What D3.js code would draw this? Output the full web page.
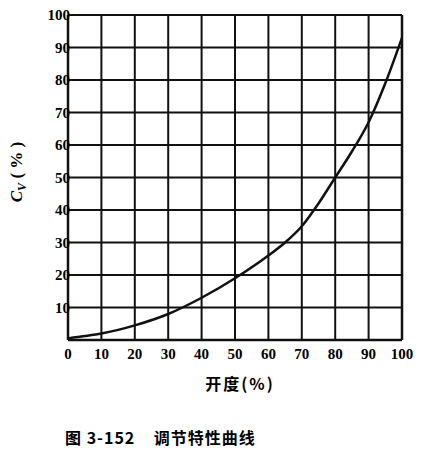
<!DOCTYPE html>
<html><head><meta charset="utf-8">
<script src="https://cdn.jsdelivr.net/npm/d3@7"></script>
<style>body{margin:0;background:#fff}</style>
</head><body><svg id="c" width="434" height="471"></svg>
<script>
const xTicks = [0,10,20,30,40,50,60,70,80,90,100];
const yTicks = [10,20,30,40,50,60,70,80,90,100];
const opening = [0,5,10,20,30,40,50,60,65,70,75,80,85,90,95,100];
const cv = [0.5,1.2,2,4.5,8,13,19,26,30,35,42,50,58,67,79,93];
const SERIF = '"Liberation Serif", "DejaVu Serif", serif';
const CJK = '"Noto Sans CJK SC", sans-serif';

const svg = d3.select('#c');
const x = d3.scaleLinear().domain([0,100]).range([68,402]);
const y = d3.scaleLinear().domain([0,100]).range([340,15]);
const g = svg.append('g');

// grid
g.selectAll('.vx').data(xTicks).join('line')
  .attr('x1', d => x(d)).attr('x2', d => x(d)).attr('y1', y(0)).attr('y2', y(100))
  .attr('stroke', '#111').attr('stroke-width', d => d === 0 || d === 100 ? 2.5 : 2);
g.selectAll('.hy').data([0].concat(yTicks)).join('line')
  .attr('y1', d => y(d)).attr('y2', d => y(d)).attr('x1', x(0)).attr('x2', x(100))
  .attr('stroke', '#111').attr('stroke-width', d => d === 0 ? 2.5 : 2);

// labels
g.selectAll('.xl').data(xTicks).join('text')
  .attr('x', d => x(d)).attr('y', 359).attr('text-anchor', 'middle')
  .attr('font-family', SERIF).attr('font-weight', 'bold').attr('font-size', 15).text(d => d);
g.selectAll('.yl').data(yTicks).join('text')
  .attr('x', 70).attr('y', d => y(d) + 5).attr('text-anchor', 'end')
  .attr('font-family', SERIF).attr('font-weight', 'bold').attr('font-size', 15).text(d => d);

// curve
g.append('path').datum(opening.map((o, i) => [o, cv[i]]))
  .attr('d', d3.line().x(d => x(d[0])).y(d => y(d[1])).curve(d3.curveMonotoneX))
  .attr('fill', 'none').attr('stroke', '#111').attr('stroke-width', 2.5);

// titles
svg.append('text').attr('x', 240).attr('y', 390).attr('text-anchor', 'middle')
  .attr('font-size', 16).attr('font-weight', 'bold').attr('font-family', CJK)
  .attr('letter-spacing', 2).text('开度(%)');
const yt = svg.append('text').attr('transform', 'translate(22,172) rotate(-90)')
  .attr('text-anchor', 'middle').attr('font-size', 17).attr('font-family', SERIF).attr('font-weight', 'bold');
yt.append('tspan').style('font-style', 'italic').text('C');
yt.append('tspan').attr('font-size', 12).attr('dy', 4).style('font-style', 'italic').text('V');
yt.append('tspan').attr('dy', -4).text(' ( % )');
svg.append('text').attr('x', 65).attr('y', 444).attr('font-size', 16).attr('font-weight', 'bold')
  .attr('font-family', CJK).attr('xml:space', 'preserve').attr('letter-spacing', 1)
  .text('图 3-152    调节特性曲线');
</script></body></html>
